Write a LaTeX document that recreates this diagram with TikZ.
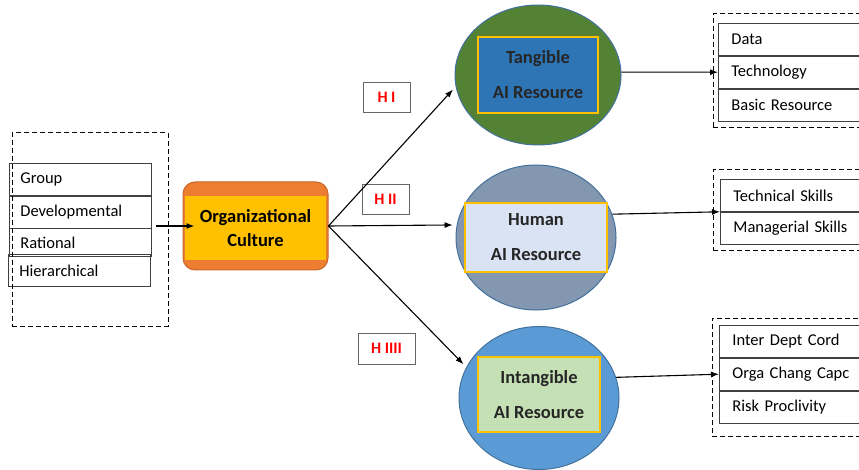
\documentclass[tikz,border=0pt]{standalone}
\usepackage{fontspec}
\setmainfont{Carlito}
\usetikzlibrary{positioning, arrows.meta, shapes.geometric}

\definecolor{cultorange}{HTML}{ED7D31}
\definecolor{cultgold}{HTML}{FFC000}
\definecolor{ringblue}{HTML}{41719C}
\definecolor{tangreen}{HTML}{548235}
\definecolor{tanblue}{HTML}{2E75B6}
\definecolor{humgray}{HTML}{8497B0}
\definecolor{humpale}{HTML}{DAE3F3}
\definecolor{intblue}{HTML}{5B9BD5}
\definecolor{intgreen}{HTML}{C5E0B4}

\begin{document}
\begin{tikzpicture}[x=1pt, y=-1pt,
	item/.style={rectangle, draw=black!75, line width=0.8pt, minimum height=32pt, text width=120pt, inner xsep=11pt, align=left, font=\fontsize{16.5}{19}\selectfont},
	ritem/.style={item, text width=150pt, inner xsep=13pt},
	groupbox/.style={rectangle, draw, dashed, dash pattern=on 5pt off 3pt, line width=1pt, inner sep=0pt},
	resource/.style={ellipse, draw=ringblue, line width=1pt, inner sep=0pt},
	resbox/.style={rectangle, draw=cultgold, line width=1.3pt, inner sep=0pt, align=center, text=black!85, font=\bfseries\fontsize{18.5}{35}\selectfont},
	hyp/.style={rectangle, draw=black!60, line width=0.8pt, minimum width=47pt, minimum height=30pt, text=red, font=\bfseries\fontsize{16}{18}\selectfont},
	link/.style={->, line width=1.1pt},
	>={Latex[length=8pt,width=6pt]}
]
\useasboundingbox (0,0) rectangle (859,470);

% culture types
\node[item, anchor=north west] (group_item) at (9,163) {Group};
\node[item, anchor=north west] (developmental_item) at (9,196) {Developmental};
\node[item, anchor=north west, minimum height=28pt] (rational_item) at (9,228) {Rational};
\node[item, anchor=north west] (hierarchical_item) at (8,254) {Hierarchical};
\node[groupbox, minimum width=156pt, minimum height=193pt] (types_box) at (90,229.5) {};
\coordinate (types_out) at (156,226);

% organizational culture
\node[rectangle, rounded corners=12pt, fill=cultorange, draw=cultorange!85!black, line width=1pt, minimum width=145pt, minimum height=88pt] (culture) at (255.5,226) {};
\node[rectangle, fill=cultgold, minimum width=141pt, minimum height=64pt, align=center, font=\bfseries\fontsize{18.5}{24}\selectfont] (culture_text) at (255.5,228) {Organizational\\Culture};

% AI resources
\node[resource, fill=tangreen, minimum width=166pt, minimum height=140pt] (tangible_circle) at (538,75) {};
\node[resbox, fill=tanblue, minimum width=120pt, minimum height=76pt] (tangible_box) at (538,75) {Tangible\\AI Resource};
\node[resource, fill=humgray, minimum width=160pt, minimum height=145pt] (human_circle) at (536,237.5) {};
\node[resbox, fill=humpale, minimum width=142pt, minimum height=69pt] (human_box) at (536,237.5) {Human\\AI Resource};
\node[resource, fill=intblue, minimum width=160pt, minimum height=143pt] (intangible_circle) at (539,398) {};
\node[resbox, fill=intgreen, minimum width=122pt, minimum height=75pt] (intangible_box) at (539,394.5) {Intangible\\AI Resource};

% hypotheses
\node[hyp] (h_one) at (386.5,97) {H I};
\node[hyp] (h_two) at (385.5,199.5) {H II};
\node[hyp, minimum width=57pt, minimum height=31pt] (h_four) at (386.5,348.5) {H IIII};

% tangible items
\node[ritem, anchor=north west] (data_item) at (718,23) {Data};
\node[ritem, below=0pt of data_item] (technology_item) {Technology};
\node[ritem, below=0pt of technology_item] (basic_item) {Basic Resource};
\node[groupbox, minimum width=157pt, minimum height=114pt] (tangible_list) at (791.5,71) {};

% human items
\node[ritem, anchor=north west] (technical_item) at (720,179) {Technical Skills};
\node[ritem, below=0pt of technical_item] (managerial_item) {Managerial Skills};
\node[groupbox, minimum width=157pt, minimum height=81pt] (human_list) at (791.5,210.5) {};

% intangible items
\node[ritem, anchor=north west] (inter_item) at (719,325) {Inter Dept Cord};
\node[ritem, below=0pt of inter_item] (orga_item) {Orga Chang Capc};
\node[ritem, below=0pt of orga_item] (risk_item) {Risk Proclivity};
\node[groupbox, minimum width=158pt, minimum height=118pt] (intangible_list) at (791,377) {};

\draw[link, shorten >=-12pt] (types_out) -- (culture.west);
\draw[link, shorten >=4pt] (culture.east) -- (tangible_circle.188);
\draw[link, shorten >=4pt] (culture.east) -- (human_circle.171);
\draw[link, shorten >=4pt] (culture.east) -- (intangible_circle.157);
\draw[link] (tangible_circle.2) -- (technology_item.west);
\draw[link] (human_circle.17) -- (technical_item.south west);
\draw[link] (intangible_circle.15) -- (orga_item.west);
\end{tikzpicture}
\end{document}
